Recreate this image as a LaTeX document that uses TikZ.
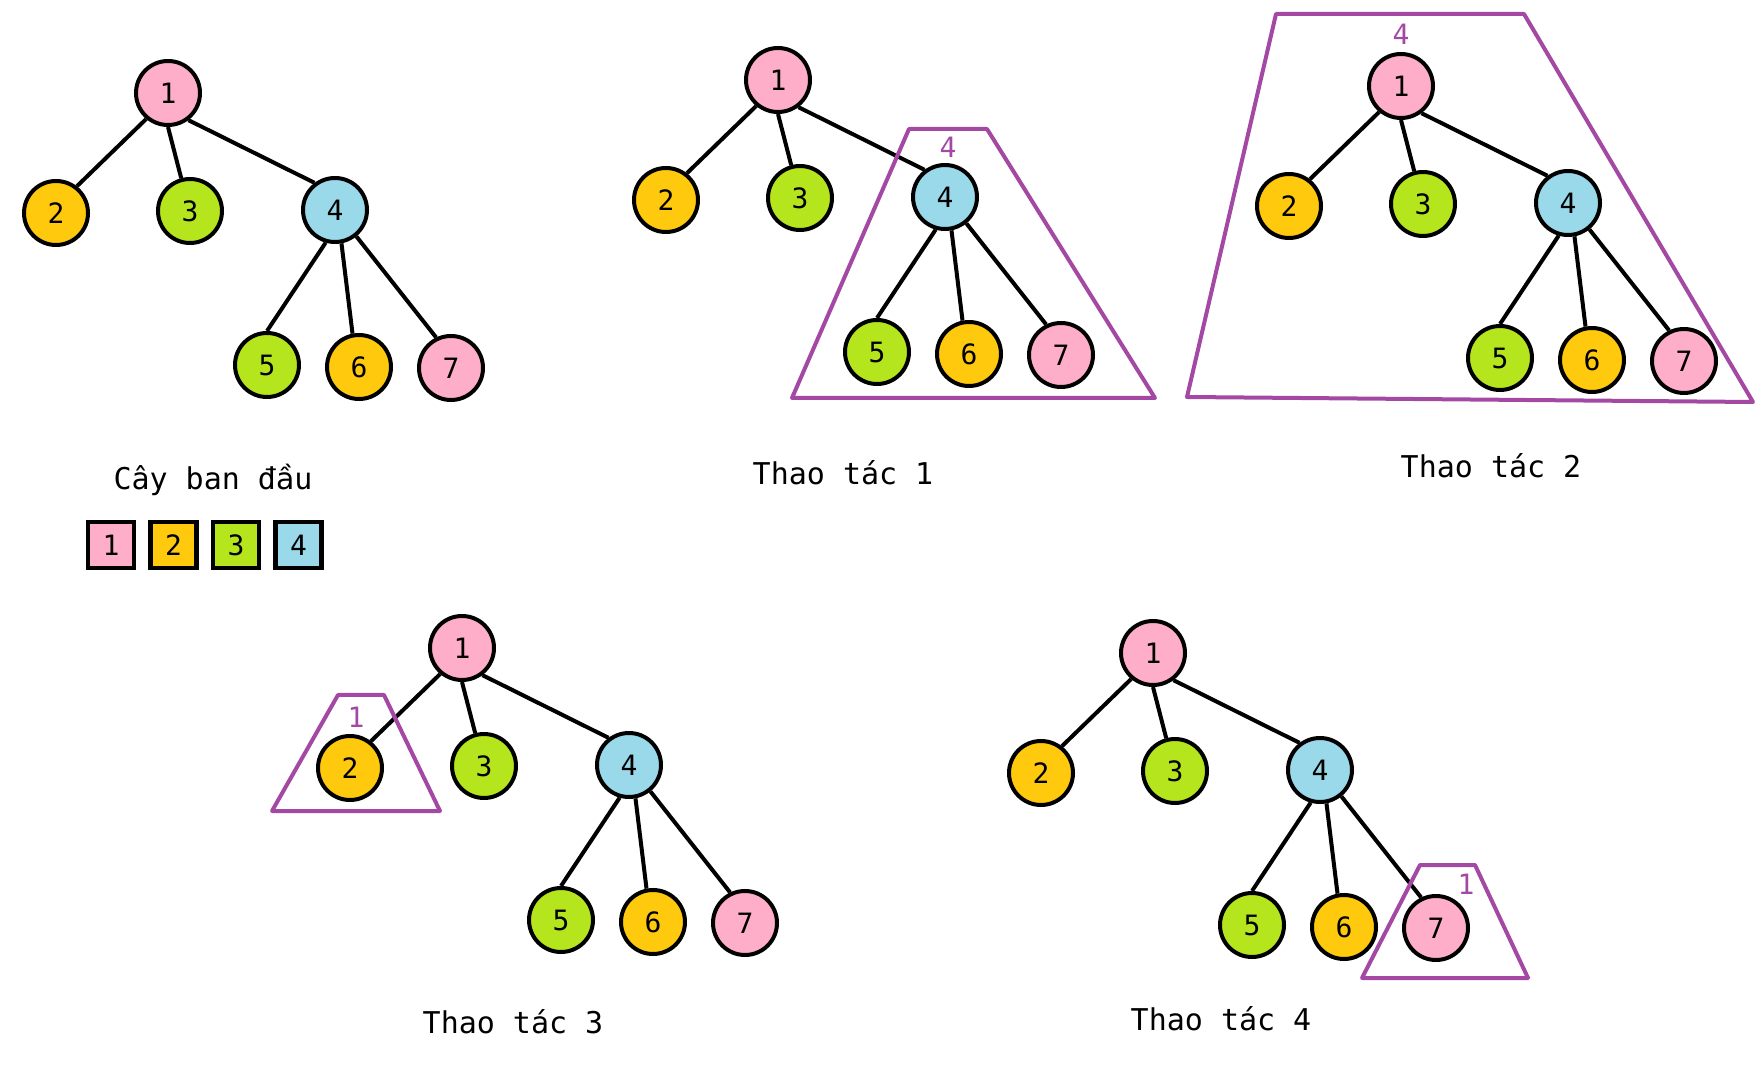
\documentclass[tikz,border=0pt]{standalone}
\usepackage{fontspec}
\setmainfont{DejaVu Sans Mono}
\newfontfamily\vnfont{DejaVu Sans}
\usetikzlibrary{positioning}

\definecolor{nodepink}{HTML}{FFAEC9}
\definecolor{nodegold}{HTML}{FFC90E}
\definecolor{nodelime}{HTML}{B5E61D}
\definecolor{nodeblue}{HTML}{99D9EA}
\definecolor{cutpurple}{HTML}{A349A4}

\tikzset{
  vertex/.style={circle, draw, line width=2pt, minimum size=32pt, inner sep=0pt, font=\fontsize{14}{16}\selectfont},
  swatch/.style={rectangle, draw, line width=2.25pt, minimum size=23pt, inner sep=0pt, font=\fontsize{14}{16}\selectfont},
  link/.style={line width=2pt},
  cut/.style={draw=cutpurple, line width=2pt, line join=round},
  cutlabel/.style={text=cutpurple, anchor=base, font=\fontsize{14}{16}\selectfont},
  opname/.style={anchor=base, font=\fontsize{15}{18}\selectfont},
}

% one copy of the tree, #1 = name prefix, #2 = where the root sits
\newcommand{\drawtree}[2]{%
  \begin{scope}[shift={#2}]
    \node (#1n1) [vertex, fill=nodepink] at (0,0) {1};
    \node (#1n2) [vertex, fill=nodegold] at (-112,120) {2};
    \node (#1n3) [vertex, fill=nodelime] at (22,118) {3};
    \node (#1n4) [vertex, fill=nodeblue] at (167,117) {4};
    \node (#1n5) [vertex, fill=nodelime] at (99,272) {5};
    \node (#1n6) [vertex, fill=nodegold] at (191,274) {6};
    \node (#1n7) [vertex, fill=nodepink] at (283,275) {7};
  \end{scope}
  \foreach \p/\c/\s/\e in {1/2/-130/52, 1/3/-90/105, 1/4/-53/127,
                           4/5/-106/90, 4/6/-79/101, 4/7/-51/116}
    \draw[link] (#1n\p.\s) -- (#1n\c.\e);
}

\begin{document}
\begin{tikzpicture}[x=0.5pt, y=-0.5pt]
  \useasboundingbox (0,0) rectangle (1757,1074);

  \drawtree{t0}{(168,93)}
  \drawtree{t1}{(778,80)}
  \drawtree{t2}{(1401,86)}
  \drawtree{t3}{(462,648)}
  \drawtree{t4}{(1153,653)}

  % subtree picked at each step
  \draw[cut] (909,129) -- (987,129) -- (1155,398) -- (792,398) -- cycle;
  \draw[cut] (1276,14) -- (1524,14) -- (1753,402) -- (1187,397) -- cycle;
  \draw[cut] (338,695) -- (384,695) -- (440,811) -- (272,811) -- cycle;
  \draw[cut] (1420,865) -- (1475,865) -- (1528,978) -- (1362,978) -- cycle;
  \node (cut1) [cutlabel] at (948,158) {4};
  \node (cut2) [cutlabel] at (1401,45) {4};
  \node (cut3) [cutlabel] at (356,727) {1};
  \node (cut4) [cutlabel] at (1466,894) {1};

  % colour legend
  \node (key1) [swatch, fill=nodepink] at (111,545) {1};
  \node (key2) [swatch, fill=nodegold, right=6pt of key1] {2};
  \node (key3) [swatch, fill=nodelime, right=6pt of key2] {3};
  \node (key4) [swatch, fill=nodeblue, right=6pt of key3] {4};

  \node (cap0) [opname] at (213,490) {Cây ban đ{\vnfont ầ}u};
  \node (cap1) [opname] at (843,485) {Thao tác 1};
  \node (cap2) [opname] at (1491,478) {Thao tác 2};
  \node (cap3) [opname] at (513,1033) {Thao tác 3};
  \node (cap4) [opname] at (1221,1030) {Thao tác 4};
\end{tikzpicture}
\end{document}
